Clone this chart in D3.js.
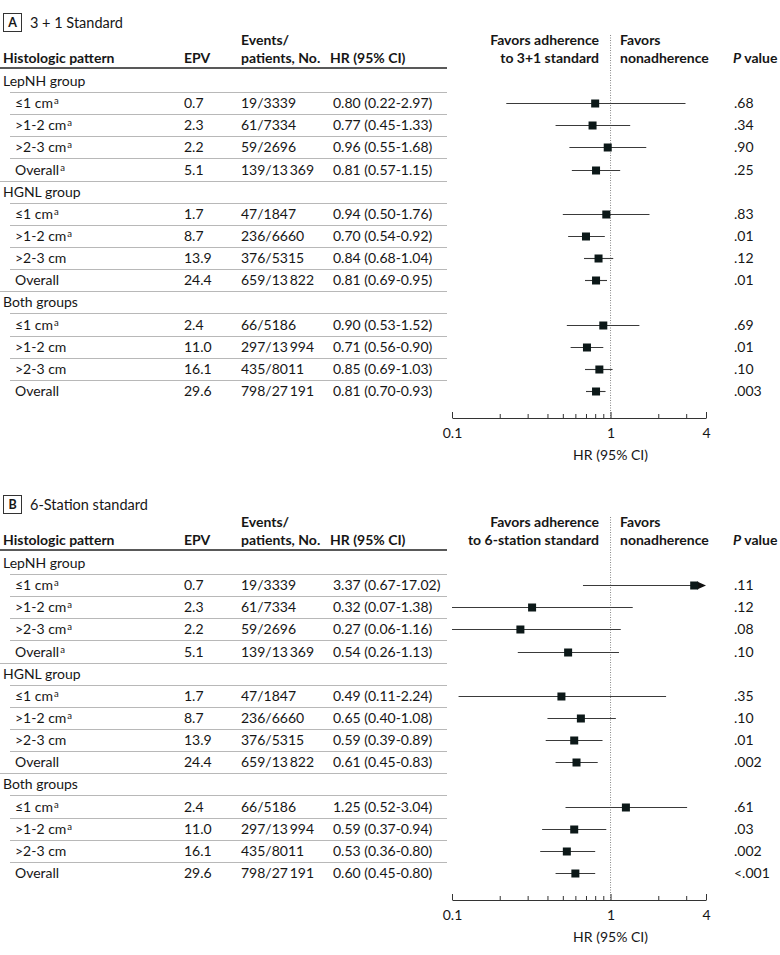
<!DOCTYPE html>
<html>
<head>
<meta charset="utf-8">
<script src="https://cdn.jsdelivr.net/npm/d3@7"></script>
<style>
  body { margin: 0; background: #fff; }
  svg text { font-family: Lato, "Noto Sans", sans-serif; fill: #161616; }
</style>
</head>
<body>
<div id="chart"></div>
<script>
// ---- data ----
const groups = ['LepNH group', 'HGNL group', 'Both groups']
// label, superscript flag
const rowLabels = [
  ['≤1 cm', 1], ['>1-2 cm', 1], ['>2-3 cm', 1], ['Overall', 1],
  ['≤1 cm', 1], ['>1-2 cm', 1], ['>2-3 cm', 0], ['Overall', 0],
  ['≤1 cm', 1], ['>1-2 cm', 0], ['>2-3 cm', 0], ['Overall', 0]
]
const rowLabelsB = [
  ['≤1 cm', 1], ['>1-2 cm', 1], ['>2-3 cm', 1], ['Overall', 1],
  ['≤1 cm', 1], ['>1-2 cm', 1], ['>2-3 cm', 0], ['Overall', 0],
  ['≤1 cm', 1], ['>1-2 cm', 1], ['>2-3 cm', 0], ['Overall', 0]
]
const epv = ['0.7', '2.3', '2.2', '5.1', '1.7', '8.7', '13.9', '24.4', '2.4', '11.0', '16.1', '29.6']
const events = ['19/3339', '61/7334', '59/2696', '139/13\u2009369', '47/1847', '236/6660', '376/5315',
  '659/13\u2009822', '66/5186', '297/13\u2009994', '435/8011', '798/27\u2009191']

const hrA = [0.80, 0.77, 0.96, 0.81, 0.94, 0.70, 0.84, 0.81, 0.90, 0.71, 0.85, 0.81]
const loA = [0.22, 0.45, 0.55, 0.57, 0.50, 0.54, 0.68, 0.69, 0.53, 0.56, 0.69, 0.70]
const hiA = [2.97, 1.33, 1.68, 1.15, 1.76, 0.92, 1.04, 0.95, 1.52, 0.90, 1.03, 0.93]
const pA = ['.68', '.34', '.90', '.25', '.83', '.01', '.12', '.01', '.69', '.01', '.10', '.003']

const hrB = [3.37, 0.32, 0.27, 0.54, 0.49, 0.65, 0.59, 0.61, 1.25, 0.59, 0.53, 0.60]
const loB = [0.67, 0.07, 0.06, 0.26, 0.11, 0.40, 0.39, 0.45, 0.52, 0.37, 0.36, 0.45]
const hiB = [17.02, 1.38, 1.16, 1.13, 2.24, 1.08, 0.89, 0.83, 3.04, 0.94, 0.80, 0.80]
const pB = ['.11', '.12', '.08', '.10', '.35', '.10', '.01', '.002', '.61', '.03', '.002', '<.001']

const axisTicks = [0.1, 0.2, 0.3, 0.4, 0.5, 0.6, 0.7, 0.8, 0.9, 1, 2, 3, 4]
const axisLabels = [0.1, 1, 4]

const panels = [
  { letter: 'A', title: '3 + 1 Standard', favors: ['Favors adherence', 'to 3+1 standard'],
    labels: rowLabels, hr: hrA, lo: loA, hi: hiA, p: pA, top: 0 },
  { letter: 'B', title: '6-Station standard', favors: ['Favors adherence', 'to 6-station standard'],
    labels: rowLabelsB, hr: hrB, lo: loB, hi: hiB, p: pB, top: 482 }
]

const W = 780, H = 955
const FS = '14px'
const svg = d3.select('#chart').append('svg').attr('width', W).attr('height', H)

const x = d3.scaleLog().domain([0.1, 4]).range([452, 706])
const fmt = d => d.toFixed(2)
const col = { label: 3, sub: 15, epv: 184, ev: 241, hr: 333, p: 734 }

panels.forEach(p => {
  const g = svg.append('g').attr('transform', `translate(0, ${p.top})`)

  // flatten into 15 display rows
  const rows = []
  groups.forEach((gr, gi) => {
    rows.push({ type: 'group', text: gr })
    for (let k = 0; k < 4; k++) {
      rows.push({ type: 'row', i: gi * 4 + k, last: k === 3 })
    }
  })
  const y = d3.scaleLinear().domain([0, rows.length - 1]).range([81, 391])

  // panel letter box + title
  g.append('rect')
    .attr('x', 3.5).attr('y', 13.5).attr('width', 18).attr('height', 18)
    .attr('fill', 'none').attr('stroke', '#333').attr('stroke-width', 1)
  g.append('text').attr('x', 12.5).attr('y', 27).attr('text-anchor', 'middle')
    .style('font-size', '12.5px').style('font-weight', 700).text(p.letter)
  g.append('text').attr('x', 30).attr('y', 28).style('font-size', '14.5px').text(p.title)

  // headers
  const hdr = (tx, ty, t, anchor) => g.append('text').attr('x', tx).attr('y', ty)
    .attr('text-anchor', anchor || 'start')
    .style('font-size', FS).style('font-weight', 700).text(t)
  hdr(col.label, 63, 'Histologic pattern')
  hdr(col.epv, 63, 'EPV')
  hdr(col.ev, 45, 'Events/')
  hdr(col.ev, 63, 'patients, No.')
  hdr(col.hr - 3, 63, 'HR (95% CI)')
  hdr(599, 45, p.favors[0], 'end')
  hdr(599, 63, p.favors[1], 'end')
  hdr(620, 45, 'Favors')
  hdr(620, 63, 'nonadherence')
  const pv = hdr(col.p - 1, 63, '')
  pv.append('tspan').style('font-style', 'italic').text('P')
  pv.append('tspan').text(' value')

  g.append('line').attr('x1', 0).attr('x2', 447).attr('y1', 68).attr('y2', 68)
    .attr('stroke', '#222').attr('stroke-width', 1.6)

  // row separators
  rows.forEach((r, j) => {
    if (j === rows.length - 1) return
    const ly = Math.round(y(j) + 11) + 0.5
    g.append('line').attr('x1', r.type === 'row' && r.last ? 0 : 10).attr('x2', 447)
      .attr('y1', ly).attr('y2', ly).attr('stroke', '#b8b8b8').attr('stroke-width', 1)
  })

  // dotted reference line
  g.append('line').attr('x1', x(1)).attr('x2', x(1)).attr('y1', 35).attr('y2', 418)
    .attr('stroke', '#888').attr('stroke-width', 1).attr('stroke-dasharray', '1,1.5')

  const txt = (tx, ty, t) => g.append('text').attr('x', tx).attr('y', ty)
    .style('font-size', FS).text(t)

  rows.forEach((r, j) => {
    const ty = y(j) + 5
    if (r.type === 'group') {
      txt(col.label, ty, r.text)
      return
    }
    const i = r.i
    const lab = txt(col.sub, ty, '')
    lab.append('tspan').text(p.labels[i][0])
    if (p.labels[i][1]) lab.append('tspan').attr('dx', 1).attr('dy', -4).style('font-size', '9.5px').text('a')
    txt(col.epv, ty, epv[i])
    txt(col.ev, ty, events[i])
    txt(col.hr, ty, `${fmt(p.hr[i])} (${fmt(p.lo[i])}-${fmt(p.hi[i])})`)
    txt(col.p, ty, p.p[i])

    // CI whisker, clipped to axis domain
    const cy = Math.round(y(j)) + 0.5
    const lo = Math.max(p.lo[i], 0.1), hi = Math.min(p.hi[i], 4)
    const clippedHi = p.hi[i] > 4
    g.append('line').attr('x1', x(lo)).attr('x2', clippedHi ? x(hi) - 6 : x(hi))
      .attr('y1', cy).attr('y2', cy).attr('stroke', '#3a3a3a').attr('stroke-width', 1.1)
    if (clippedHi) {
      g.append('path')
        .attr('d', d3.line()([[x(hi) - 9, cy - 4], [x(hi), cy], [x(hi) - 9, cy + 4]]) + 'Z')
        .attr('fill', '#111')
    }
    g.append('rect').attr('x', x(p.hr[i]) - 4).attr('y', cy - 4).attr('width', 8).attr('height', 8)
      .attr('fill', '#0c1818')
  })

  // axis
  const ax = g.append('g').attr('transform', 'translate(0, 418)')
    .call(d3.axisBottom(x).tickValues(axisTicks).tickSizeInner(-4).tickSizeOuter(0).tickPadding(10)
      .tickFormat(d => axisLabels.includes(d) ? String(d) : ''))
  ax.select('.domain').attr('stroke', '#333')
  ax.selectAll('.tick line').attr('stroke', '#333')
    .attr('y2', d => axisLabels.includes(d) ? -6 : -4)
  ax.selectAll('.tick text').style('font-size', FS).style('font-family', 'Lato, sans-serif')
    .attr('fill', '#161616')
  g.append('text').attr('x', x(1)).attr('y', 460).attr('text-anchor', 'middle')
    .style('font-size', FS).text('HR (95% CI)')
})
</script>
</body>
</html>
